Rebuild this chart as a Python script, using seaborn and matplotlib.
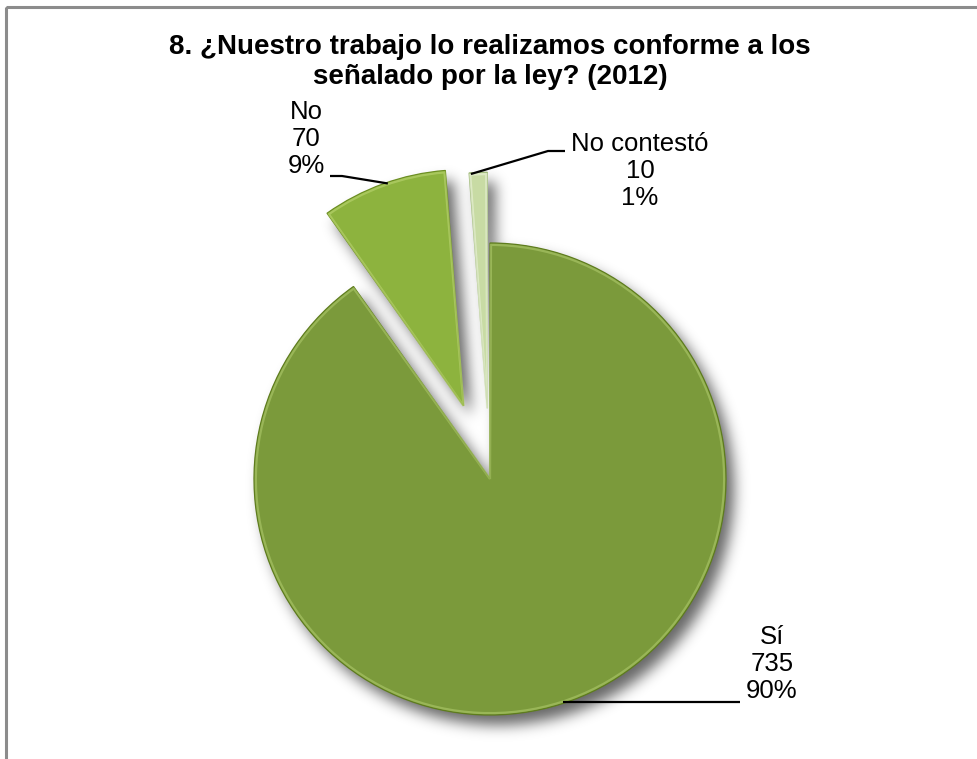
import numpy as np
import matplotlib
matplotlib.use("Agg")
import matplotlib.pyplot as plt
from matplotlib.patches import Rectangle, Wedge
import seaborn as sns

# Survey answers (2012)
categories = ["Sí", "No", "No contestó"]
counts = [735, 70, 10]
title = "8. ¿Nuestro trabajo lo realizamos conforme a los\nseñalado por la ley? (2012)"

sns.set_style("white")
plt.rcParams["font.family"] = ["Liberation Sans", "DejaVu Sans"]

W, H = 977, 759
fig = plt.figure(figsize=(W / 100, H / 100), dpi=100)

# Pie axes spanning the figure; pie radius 236 px centred at (490, 479) px
R_PX = 236.0
CX, CY = 490.0, 479.0
ax = fig.add_axes([0, 0, 1, 1])
colors = sns.color_palette(["#7b9a3b", "#8db33e", "#c8dba4"])
edges = ["#5e7c1d", "#6c8e22", "#9db777"]
rims = ["#a6c264", "#b4d06a", "#e6f0d2"]
wedges, _ = ax.pie(counts, startangle=90, counterclock=False,
                   explode=[0.0, 0.33, 0.30], colors=colors, radius=1.0,
                   wedgeprops=dict(linewidth=0.9, zorder=2))
ax.set_aspect("auto")
xlim = (-CX / R_PX, (W - CX) / R_PX)
ylim = ((CY - H) / R_PX, CY / R_PX)
ax.set_xlim(*xlim)
ax.set_ylim(*ylim)
ax.axis("off")

for w, ec, rc in zip(wedges, edges, rims):
    w.set_edgecolor(ec)
    # bevel highlight just inside each slice outline
    rim = Wedge(w.center, w.r * 0.992, w.theta1 + 0.25, w.theta2 - 0.25,
                fill=False, edgecolor=rc, lw=1.6, alpha=0.7, zorder=2.1)
    ax.add_patch(rim)

# blurred drop shadow built from the slice geometry, offset to the lower right
SH_DX, SH_DY, SIGMA = 8.0, 10.0, 7.0
px = np.arange(W) + 0.5
py = np.arange(H) + 0.5
gx, gy = np.meshgrid((px - SH_DX - CX) / R_PX, (CY - (py - SH_DY)) / R_PX)
mask = np.zeros((H, W))
for w in wedges:
    cx, cy = w.center
    dx, dy = gx - cx, gy - cy
    rr = np.hypot(dx, dy)
    ang = np.degrees(np.arctan2(dy, dx))
    inside = (rr <= w.r) & (np.mod(ang - w.theta1, 360) <= (w.theta2 - w.theta1))
    mask[inside] = 1.0

# separable gaussian blur
k = np.arange(-int(3 * SIGMA), int(3 * SIGMA) + 1)
kern = np.exp(-0.5 * (k / SIGMA) ** 2)
kern /= kern.sum()
pad = len(k) // 2
padded = np.pad(mask, pad)
tmp = np.zeros((H + 2 * pad, W))
for i, kv in enumerate(kern):
    tmp += kv * padded[:, i:i + W]
soft = np.zeros((H, W))
for i, kv in enumerate(kern):
    soft += kv * tmp[i:i + H, :]

rgba = np.zeros((H, W, 4))
rgba[..., 3] = 0.6 * soft
ax.imshow(rgba, extent=(xlim[0], xlim[1], ylim[0], ylim[1]), origin="upper",
          aspect="auto", zorder=1, interpolation="bilinear")

# overlay axes in pixel coordinates for labels and frame
ov = fig.add_axes([0, 0, 1, 1], facecolor="none")
ov.set_xlim(0, W)
ov.set_ylim(H, 0)
ov.axis("off")


def wedge_point(w, ang, r=1.0):
    cx, cy = w.center
    p = (cx + r * w.r * np.cos(np.radians(ang)), cy + r * w.r * np.sin(np.radians(ang)))
    disp = ax.transData.transform(p)
    return ov.transData.inverted().transform(disp)


total = sum(counts)
labels = [f"{c}\n{v}\n{round(100 * v / total):.0f}%" for c, v in zip(categories, counts)]

label_pos = [(772, 664), (306, 139), (640, 171)]
anchor_ang = [-71.9, 108.8, 94.0]
elbows = [[(740, None)], [(342, 176), (330, 176)], [(548, 151), (565, 151)]]

for w, lab, pos, ang, elb in zip(wedges, labels, label_pos, anchor_ang, elbows):
    ov.text(pos[0], pos[1], lab, ha="center", va="center", fontsize=18.5,
            linespacing=1.15, color="black")
    a = wedge_point(w, ang, 0.995)
    pts = [a]
    for ex, ey in elb:
        pts.append((ex, a[1] if ey is None else ey))
    xs, ys = zip(*pts)
    ov.plot(xs, ys, color="black", lw=1.6, solid_capstyle="butt")

ov.text(490, 62, title, ha="center", va="center", fontsize=20, fontweight="bold",
        linespacing=1.15, color="black")

ov.add_patch(Rectangle((6, 7), 1100, 900, fill=False, edgecolor="#8c8c8c", lw=2.2))

fig.savefig("out.png", dpi=100)
